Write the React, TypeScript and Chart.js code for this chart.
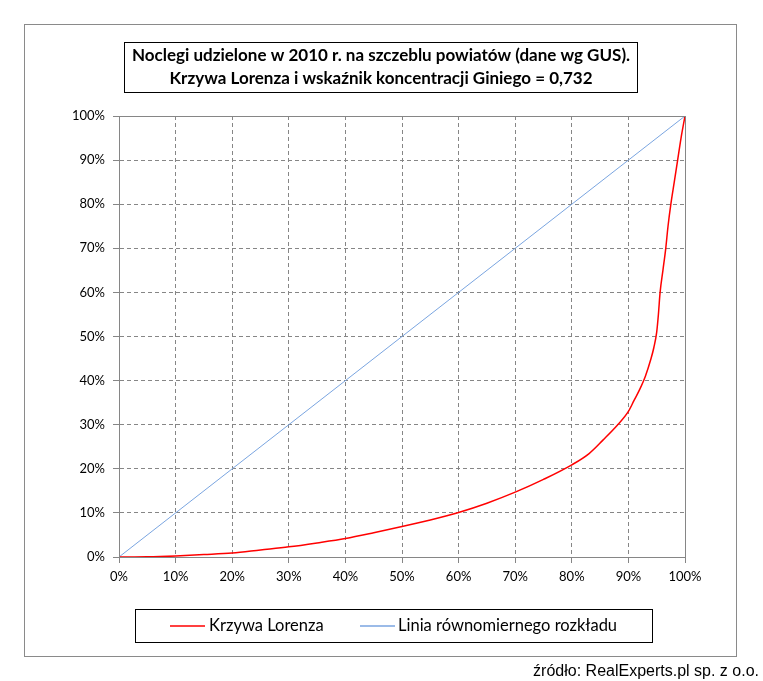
import React, { useEffect, useRef } from "react";
import { Chart, registerables } from "chart.js";

Chart.register(...registerables);

// ---- data (percent shares) ----
const populationShares = [0, 5, 10, 15, 20, 25, 30, 35, 40, 45, 50, 55, 60, 65, 70, 75, 80, 83, 85.5, 88, 90, 91, 92, 93, 94, 94.5, 95, 95.3, 95.6, 96.1, 96.6, 97.0, 97.5, 98.1, 98.7, 99.3, 100];
const lorenzShares = [0, 0.05, 0.25, 0.55, 0.9, 1.6, 2.3, 3.2, 4.2, 5.5, 6.9, 8.4, 10.1, 12.2, 14.7, 17.6, 20.9, 23.4, 26.5, 29.8, 33.0, 35.5, 38.0, 41.0, 45.0, 47.5, 51.0, 55.0, 60.0, 65.0, 70.0, 75.0, 80.0, 85.0, 90.0, 95.0, 100];
const equalityX = [0, 100];
const equalityY = [0, 100];
const axisMin = 0;
const axisMax = 100;
const axisStep = 10;
const titleLines = [
  "Noclegi udzielone w 2010 r. na szczeblu powiatów (dane wg GUS).",
  "Krzywa Lorenza i wskaźnik koncentracji Giniego = 0,732",
];
const seriesLabels = ["Krzywa Lorenza", "Linia równomiernego rozkładu"];
const seriesColors = ["#ff0000", "#7aa5e0"];
const sourceText = "źródło: RealExperts.pl sp. z o.o.";

const W = 763;
const H = 681;

const decorPlugin = {
  id: "decor",
  beforeDraw(chart: any) {
    const ctx = chart.ctx;
    ctx.save();
    ctx.fillStyle = "#ffffff";
    ctx.fillRect(0, 0, chart.width, chart.height);
    ctx.restore();
  },
  afterDraw(chart: any) {
    const ctx = chart.ctx;
    const a = chart.chartArea;
    ctx.save();
    // plot area frame
    ctx.strokeStyle = "#868686";
    ctx.lineWidth = 1;
    ctx.setLineDash([]);
    ctx.strokeRect(Math.round(a.left) + 0.5, Math.round(a.top) + 0.5, Math.round(a.right - a.left), Math.round(a.bottom - a.top));
    // outer frame
    ctx.strokeStyle = "#8a8a8a";
    ctx.strokeRect(24.5, 24.5, 712, 632);
    // title box
    ctx.strokeStyle = "#000000";
    ctx.strokeRect(124.5, 42.5, 513, 50);
    ctx.fillStyle = "#000000";
    ctx.font = "bold 17px Lato";
    ctx.textAlign = "center";
    ctx.textBaseline = "middle";
    ctx.fillText(titleLines[0], 381, 56);
    ctx.fillText(titleLines[1], 381, 79);
    // legend box
    ctx.strokeRect(135.5, 609.5, 517, 33);
    const ds = chart.data.datasets;
    const entries = [
      { x: 170, tx: 209 },
      { x: 360, tx: 398 },
    ];
    ctx.font = "16.5px Lato";
    ctx.textAlign = "left";
    entries.forEach((e, i) => {
      ctx.strokeStyle = ds[i].borderColor;
      ctx.lineWidth = 1.5;
      ctx.beginPath();
      ctx.moveTo(e.x, 626);
      ctx.lineTo(e.x + 35, 626);
      ctx.stroke();
      ctx.fillStyle = "#000000";
      ctx.fillText(ds[i].label, e.tx, 626);
    });
    // source
    ctx.font = "16px 'Liberation Sans'";
    ctx.textAlign = "right";
    ctx.textBaseline = "alphabetic";
    ctx.fillText(sourceText, 759, 676);
    ctx.restore();
  },
};

export default function App() {
  const ref = useRef<HTMLCanvasElement | null>(null);
  useEffect(() => {
    if (!ref.current) return;
    const pct = (v: any) => v + "%";
    const gridOpts = {
      color: "#868686",
      lineWidth: 1,
      tickLength: 6,
      tickColor: "#868686",
      tickBorderDash: [],
    };
    const chart = new Chart(ref.current, {
      type: "scatter",
      data: {
        datasets: [
          {
            label: seriesLabels[0],
            data: populationShares.map((x, i) => ({ x, y: lorenzShares[i] })),
            showLine: true,
            borderColor: seriesColors[0],
            backgroundColor: seriesColors[0],
            borderWidth: 1.5,
            pointRadius: 0,
            cubicInterpolationMode: "monotone",
          },
          {
            label: seriesLabels[1],
            data: equalityX.map((x, i) => ({ x, y: equalityY[i] })),
            showLine: true,
            borderColor: seriesColors[1],
            backgroundColor: seriesColors[1],
            borderWidth: 1,
            pointRadius: 0,
            tension: 0,
          },
        ],
      },
      options: {
        animation: false,
        responsive: true,
        maintainAspectRatio: false,
        layout: { padding: { left: 0, top: 116, right: 78, bottom: 93 } },
        plugins: {
          legend: { display: false },
          title: { display: false },
          tooltip: { enabled: false },
        },
        scales: {
          x: {
            type: "linear",
            min: axisMin,
            max: axisMax,
            ticks: {
              stepSize: axisStep,
              callback: pct,
              color: "#000000",
              font: { family: "Lato", size: 13 },
              padding: 6,
              maxRotation: 0,
            },
            grid: gridOpts,
            border: { display: true, color: "#868686", width: 1, dash: [4, 3] },
            afterFit: (s: any) => {
              s.height = 31;
            },
          },
          y: {
            type: "linear",
            min: axisMin,
            max: axisMax,
            ticks: {
              stepSize: axisStep,
              callback: pct,
              color: "#000000",
              font: { family: "Lato", size: 13 },
              padding: 8,
            },
            grid: gridOpts,
            border: { display: true, color: "#868686", width: 1, dash: [4, 3] },
            afterFit: (s: any) => {
              s.width = 119;
            },
          },
        },
      } as any,
      plugins: [decorPlugin],
    });
    return () => chart.destroy();
  }, []);
  return (
    <div style={{ position: "absolute", left: 0, top: 0, width: W, height: H, background: "#fff" }}>
      <canvas ref={ref} />
    </div>
  );
}
